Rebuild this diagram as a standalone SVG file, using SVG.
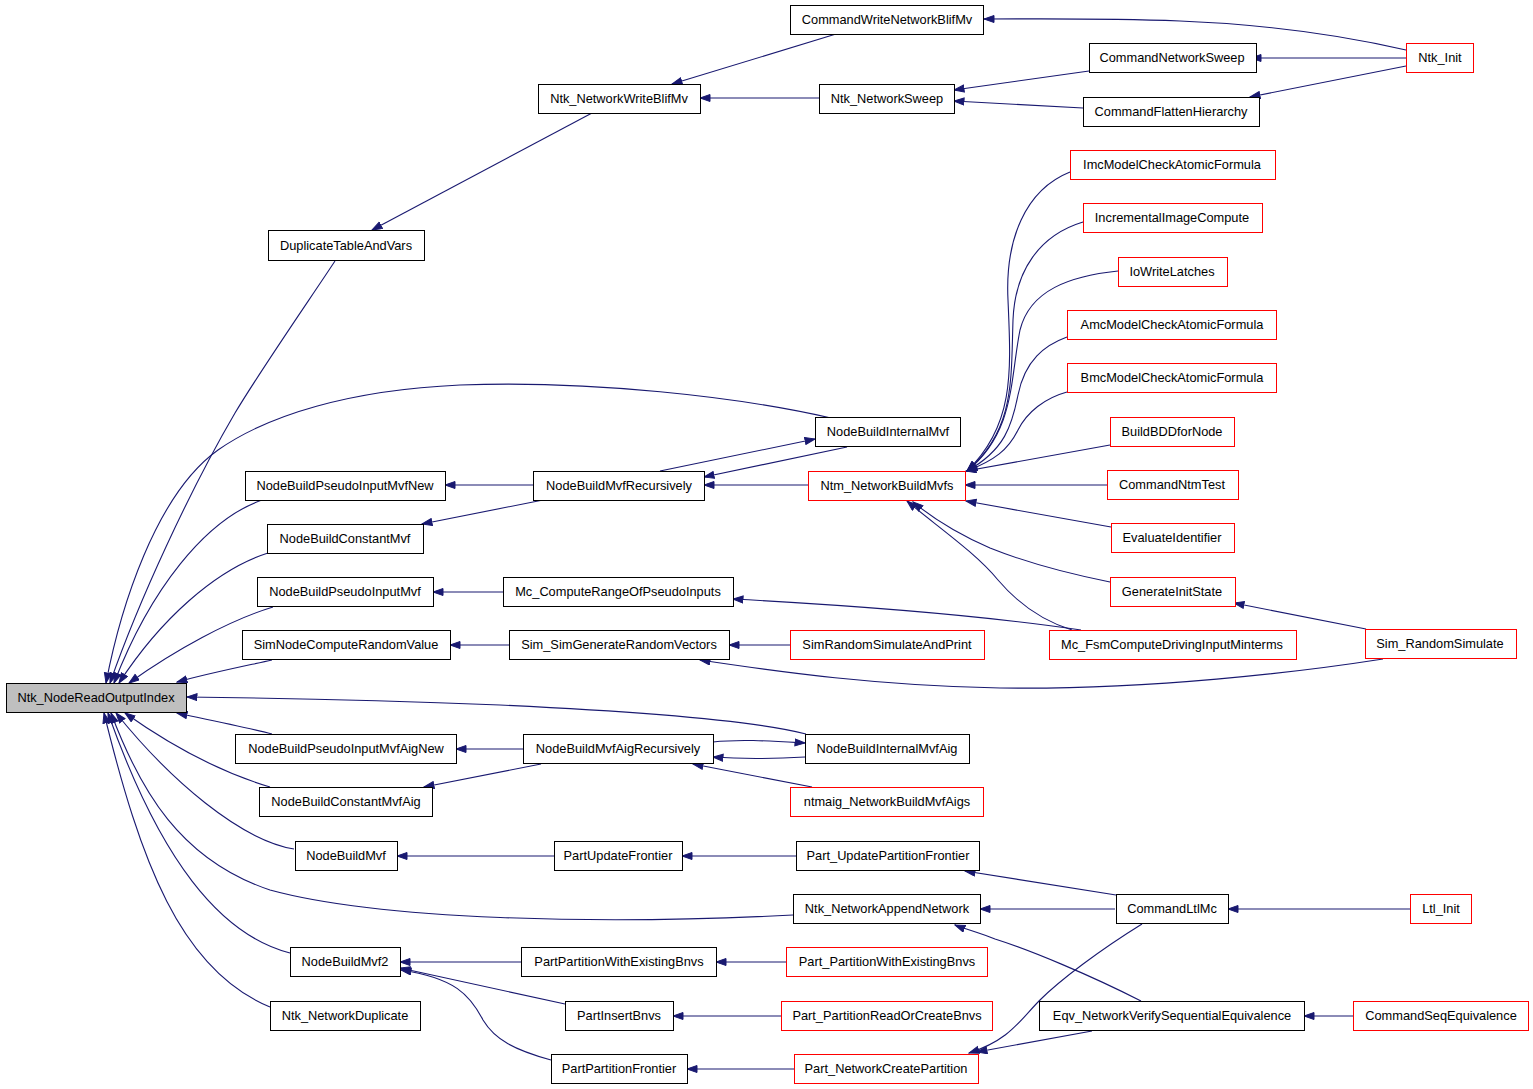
<svg xmlns="http://www.w3.org/2000/svg" width="1533" height="1089" viewBox="0 0 1533 1089">
<style>
.n rect{fill:#fff;stroke:#000;stroke-width:1}
.r rect{fill:#fff;stroke:#ff0000;stroke-width:1}
.root rect{fill:#bfbfbf;stroke:#000;stroke-width:1}
text{font-family:"Liberation Sans",Arial,Helvetica,sans-serif;font-size:12.8px;text-anchor:middle;fill:#000}
#edges path{fill:none;stroke:#191970;stroke-width:1.1;marker-end:url(#ah)}
</style>
<defs>
<marker id="ah" markerUnits="userSpaceOnUse" markerWidth="12" markerHeight="9" refX="10.5" refY="4" orient="auto" viewBox="0 0 12 9">
<path d="M0.5,0.5 L10.5,4 L0.5,7.5 z" fill="#191970" stroke="#191970" stroke-width="1"/>
</marker>
</defs>
<rect x="0" y="0" width="1533" height="1089" fill="#fff"/>
<g id="edges">
<path d="M335,261 C312,296 262,368 235,413 C190,490 139,600 110,683"/>
<path d="M831,418 C740,397 590,380 460,385 C350,390 268,415 218,450 C155,495 120,610 106,683"/>
<path d="M262,500 C205,520 150,590 114,683"/>
<path d="M268,553 C215,570 160,620 119,683"/>
<path d="M273,607 C230,620 175,650 129,683"/>
<path d="M272,660 C245,666 210,673 177,682"/>
<path d="M806,734 C760,722 650,712 500,705 C400,701 280,698 187,697"/>
<path d="M272,734 C245,727 210,720 177,713"/>
<path d="M270,787 C220,772 170,745 125,713"/>
<path d="M294,849 C240,840 170,780 116,713"/>
<path d="M793,915 C600,925 380,920 270,890 C180,860 140,790 111,713"/>
<path d="M290,953 C220,935 160,860 108,713"/>
<path d="M270,1007 C180,970 140,860 104,713"/>
<path d="M836,34 L672,84"/>
<path d="M592,113 L372,230"/>
<path d="M819,98 L700,98"/>
<path d="M1406,50 C1350,37 1280,25 1180,21 C1100,18 1040,19 984,19"/>
<path d="M1406,58 L1251,58"/>
<path d="M1406,66 L1250,97"/>
<path d="M1089,71 L954,90"/>
<path d="M1083,108 L954,101"/>
<path d="M533,485 L445,485"/>
<path d="M543,500 L422,524"/>
<path d="M660,471 L815,439"/>
<path d="M847,447 L704,477"/>
<path d="M808,485 L704,485"/>
<path d="M1070,172 C1025,190 1005,240 1008,300 C1011,370 1015,425 967,471"/>
<path d="M1083,222 C1040,235 1015,270 1013,320 C1011,380 1015,430 967,471"/>
<path d="M1118,271 C1070,276 1030,290 1020,330 C1010,380 1015,432 967,471"/>
<path d="M1067,337 C1045,345 1025,360 1018,395 C1012,425 1005,450 967,471"/>
<path d="M1067,392 C1045,398 1027,412 1018,430 C1008,450 995,460 967,471"/>
<path d="M1110,445 L966,471"/>
<path d="M1107,485 L965,485"/>
<path d="M1111,527 L966,501"/>
<path d="M1110,582 C1060,572 1020,560 990,548 C960,535 935,520 913,502"/>
<path d="M1072,630 C1040,620 1015,600 998,580 C975,552 935,525 907,501"/>
<path d="M1081,630 C1000,618 900,608 733,599"/>
<path d="M1366,629 L1234,603"/>
<path d="M1383,659 C1300,672 1150,690 1000,688 C880,686 780,672 700,660"/>
<path d="M790,645 L729,645"/>
<path d="M503,592 L433,592"/>
<path d="M509,645 L450,645"/>
<path d="M523,749 L456,749"/>
<path d="M541,764 L424,787"/>
<path d="M713,742 C740,739 770,741 805,743"/>
<path d="M805,757 C770,759 740,759 713,757"/>
<path d="M812,787 L693,764"/>
<path d="M554,856 L397,856"/>
<path d="M796,856 L682,856"/>
<path d="M1116,895 L965,871"/>
<path d="M1115,909 L980,909"/>
<path d="M1410,909 L1228,909"/>
<path d="M1141,1001 C1090,975 1030,950 995,939 C980,933 965,929 955,925"/>
<path d="M1142,924 C1100,950 1060,980 1040,1000 C1020,1020 1010,1040 969,1053"/>
<path d="M1092,1031 L977,1052"/>
<path d="M1353,1016 L1304,1016"/>
<path d="M521,962 L400,962"/>
<path d="M565,1004 L400,968"/>
<path d="M551,1060 C515,1050 495,1040 483,1020 C470,995 455,978 401,970"/>
<path d="M786,962 L716,962"/>
<path d="M781,1016 L673,1016"/>
<path d="M794,1069 L687,1069"/>
</g>
<g id="Ntk_NodeReadOutputIndex" class="root"><rect x="6.5" y="683.5" width="180" height="29"/><text x="96" y="702">Ntk_NodeReadOutputIndex</text></g>
<g id="CommandWriteNetworkBlifMv" class="n"><rect x="790.5" y="5.5" width="193" height="29"/><text x="887" y="24">CommandWriteNetworkBlifMv</text></g>
<g id="Ntk_NetworkWriteBlifMv" class="n"><rect x="538.5" y="84.5" width="162" height="29"/><text x="619" y="103">Ntk_NetworkWriteBlifMv</text></g>
<g id="Ntk_NetworkSweep" class="n"><rect x="819.5" y="84.5" width="135" height="29"/><text x="887" y="103">Ntk_NetworkSweep</text></g>
<g id="CommandNetworkSweep" class="n"><rect x="1089.5" y="43.5" width="167" height="29"/><text x="1172" y="62">CommandNetworkSweep</text></g>
<g id="CommandFlattenHierarchy" class="n"><rect x="1083.5" y="97.5" width="176" height="29"/><text x="1171" y="116">CommandFlattenHierarchy</text></g>
<g id="Ntk_Init" class="r"><rect x="1406.5" y="43.5" width="67" height="29"/><text x="1440" y="62">Ntk_Init</text></g>
<g id="DuplicateTableAndVars" class="n"><rect x="268.5" y="230.5" width="156" height="30"/><text x="346" y="250">DuplicateTableAndVars</text></g>
<g id="ImcModelCheckAtomicFormula" class="r"><rect x="1070.5" y="150.5" width="205" height="29"/><text x="1172" y="169">ImcModelCheckAtomicFormula</text></g>
<g id="IncrementalImageCompute" class="r"><rect x="1083.5" y="203.5" width="179" height="29"/><text x="1172" y="222">IncrementalImageCompute</text></g>
<g id="IoWriteLatches" class="r"><rect x="1118.5" y="257.5" width="109" height="29"/><text x="1172" y="276">IoWriteLatches</text></g>
<g id="AmcModelCheckAtomicFormula" class="r"><rect x="1067.5" y="310.5" width="209" height="29"/><text x="1172" y="329">AmcModelCheckAtomicFormula</text></g>
<g id="BmcModelCheckAtomicFormula" class="r"><rect x="1067.5" y="363.5" width="209" height="29"/><text x="1172" y="382">BmcModelCheckAtomicFormula</text></g>
<g id="BuildBDDforNode" class="r"><rect x="1110.5" y="417.5" width="124" height="29"/><text x="1172" y="436">BuildBDDforNode</text></g>
<g id="CommandNtmTest" class="r"><rect x="1107.5" y="470.5" width="131" height="29"/><text x="1172" y="489">CommandNtmTest</text></g>
<g id="EvaluateIdentifier" class="r"><rect x="1111.5" y="523.5" width="123" height="29"/><text x="1172" y="542">EvaluateIdentifier</text></g>
<g id="GenerateInitState" class="r"><rect x="1110.5" y="577.5" width="125" height="29"/><text x="1172" y="596">GenerateInitState</text></g>
<g id="Mc_FsmComputeDrivingInputMinterms" class="r"><rect x="1049.5" y="630.5" width="247" height="29"/><text x="1172" y="649">Mc_FsmComputeDrivingInputMinterms</text></g>
<g id="Sim_RandomSimulate" class="r"><rect x="1365.5" y="629.5" width="151" height="29"/><text x="1440" y="648">Sim_RandomSimulate</text></g>
<g id="NodeBuildInternalMvf" class="n"><rect x="815.5" y="417.5" width="145" height="29"/><text x="888" y="436">NodeBuildInternalMvf</text></g>
<g id="Ntm_NetworkBuildMvfs" class="r"><rect x="808.5" y="471.5" width="157" height="29"/><text x="887" y="490">Ntm_NetworkBuildMvfs</text></g>
<g id="SimRandomSimulateAndPrint" class="r"><rect x="790.5" y="630.5" width="194" height="29"/><text x="887" y="649">SimRandomSimulateAndPrint</text></g>
<g id="NodeBuildPseudoInputMvfNew" class="n"><rect x="245.5" y="471.5" width="200" height="29"/><text x="345" y="490">NodeBuildPseudoInputMvfNew</text></g>
<g id="NodeBuildMvfRecursively" class="n"><rect x="533.5" y="471.5" width="171" height="29"/><text x="619" y="490">NodeBuildMvfRecursively</text></g>
<g id="NodeBuildConstantMvf" class="n"><rect x="267.5" y="524.5" width="156" height="29"/><text x="345" y="543">NodeBuildConstantMvf</text></g>
<g id="NodeBuildPseudoInputMvf" class="n"><rect x="257.5" y="577.5" width="176" height="29"/><text x="345" y="596">NodeBuildPseudoInputMvf</text></g>
<g id="Mc_ComputeRangeOfPseudoInputs" class="n"><rect x="503.5" y="577.5" width="230" height="29"/><text x="618" y="596">Mc_ComputeRangeOfPseudoInputs</text></g>
<g id="SimNodeComputeRandomValue" class="n"><rect x="242.5" y="630.5" width="208" height="29"/><text x="346" y="649">SimNodeComputeRandomValue</text></g>
<g id="Sim_SimGenerateRandomVectors" class="n"><rect x="509.5" y="630.5" width="220" height="29"/><text x="619" y="649">Sim_SimGenerateRandomVectors</text></g>
<g id="NodeBuildPseudoInputMvfAigNew" class="n"><rect x="235.5" y="734.5" width="221" height="29"/><text x="346" y="753">NodeBuildPseudoInputMvfAigNew</text></g>
<g id="NodeBuildMvfAigRecursively" class="n"><rect x="523.5" y="734.5" width="190" height="29"/><text x="618" y="753">NodeBuildMvfAigRecursively</text></g>
<g id="NodeBuildInternalMvfAig" class="n"><rect x="805.5" y="734.5" width="164" height="29"/><text x="887" y="753">NodeBuildInternalMvfAig</text></g>
<g id="NodeBuildConstantMvfAig" class="n"><rect x="259.5" y="787.5" width="173" height="29"/><text x="346" y="806">NodeBuildConstantMvfAig</text></g>
<g id="ntmaig_NetworkBuildMvfAigs" class="r"><rect x="790.5" y="787.5" width="193" height="29"/><text x="887" y="806">ntmaig_NetworkBuildMvfAigs</text></g>
<g id="NodeBuildMvf" class="n"><rect x="295.5" y="841.5" width="102" height="29"/><text x="346" y="860">NodeBuildMvf</text></g>
<g id="PartUpdateFrontier" class="n"><rect x="554.5" y="841.5" width="128" height="29"/><text x="618" y="860">PartUpdateFrontier</text></g>
<g id="Part_UpdatePartitionFrontier" class="n"><rect x="796.5" y="841.5" width="183" height="29"/><text x="888" y="860">Part_UpdatePartitionFrontier</text></g>
<g id="Ntk_NetworkAppendNetwork" class="n"><rect x="793.5" y="894.5" width="187" height="29"/><text x="887" y="913">Ntk_NetworkAppendNetwork</text></g>
<g id="CommandLtlMc" class="n"><rect x="1116.5" y="894.5" width="112" height="29"/><text x="1172" y="913">CommandLtlMc</text></g>
<g id="Ltl_Init" class="r"><rect x="1410.5" y="894.5" width="61" height="29"/><text x="1441" y="913">Ltl_Init</text></g>
<g id="NodeBuildMvf2" class="n"><rect x="290.5" y="947.5" width="110" height="29"/><text x="345" y="966">NodeBuildMvf2</text></g>
<g id="PartPartitionWithExistingBnvs" class="n"><rect x="521.5" y="947.5" width="195" height="29"/><text x="619" y="966">PartPartitionWithExistingBnvs</text></g>
<g id="Part_PartitionWithExistingBnvs" class="r"><rect x="786.5" y="947.5" width="201" height="29"/><text x="887" y="966">Part_PartitionWithExistingBnvs</text></g>
<g id="Ntk_NetworkDuplicate" class="n"><rect x="270.5" y="1001.5" width="150" height="29"/><text x="345" y="1020">Ntk_NetworkDuplicate</text></g>
<g id="PartInsertBnvs" class="n"><rect x="565.5" y="1001.5" width="108" height="29"/><text x="619" y="1020">PartInsertBnvs</text></g>
<g id="Part_PartitionReadOrCreateBnvs" class="r"><rect x="781.5" y="1001.5" width="211" height="29"/><text x="887" y="1020">Part_PartitionReadOrCreateBnvs</text></g>
<g id="Eqv_NetworkVerifySequentialEquivalence" class="n"><rect x="1039.5" y="1001.5" width="265" height="29"/><text x="1172" y="1020">Eqv_NetworkVerifySequentialEquivalence</text></g>
<g id="CommandSeqEquivalence" class="r"><rect x="1353.5" y="1001.5" width="175" height="29"/><text x="1441" y="1020">CommandSeqEquivalence</text></g>
<g id="PartPartitionFrontier" class="n"><rect x="551.5" y="1054.5" width="136" height="29"/><text x="619" y="1073">PartPartitionFrontier</text></g>
<g id="Part_NetworkCreatePartition" class="r"><rect x="794.5" y="1054.5" width="184" height="29"/><text x="886" y="1073">Part_NetworkCreatePartition</text></g>
</svg>
